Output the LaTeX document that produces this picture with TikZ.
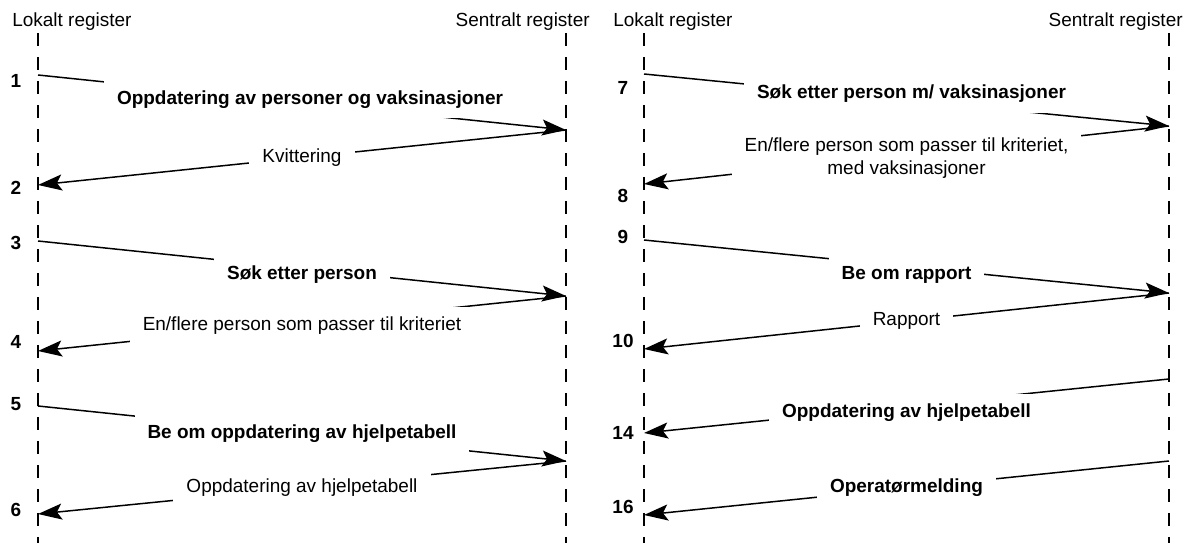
\documentclass[tikz,border=0pt]{standalone}
\usepackage{fontspec}
\setmainfont{Liberation Sans}
\usetikzlibrary{arrows.meta,positioning}
\tikzset{>={Stealth[length=0.48cm,width=0.32cm,inset=0.1cm]}}
\tikzset{
  lifeline/.style={line width=1.1pt, dash pattern=on 0.26cm off 0.22cm},
  msg/.style={->, line width=0.85pt},
  msglabel/.style={fill=white, inner xsep=0.26cm, inner ysep=0.2cm,
    font=\fontsize{10.8}{13}\selectfont},
  boldlabel/.style={msglabel, font=\fontsize{10.8}{13}\selectfont\bfseries},
  stepno/.style={font=\fontsize{10.8}{13}\selectfont\bfseries, inner sep=0pt},
  header/.style={font=\fontsize{10.8}{13}\selectfont, inner sep=0pt}
}

\begin{document}
\begin{tikzpicture}[x=0.02cm, y=-0.02cm]
\useasboundingbox (0,0) rectangle (1192,543);

% headings
\node[header, anchor=west] (lokalA) at (12,22) {Lokalt register};
\node[header, anchor=east] (sentralA) at (590,22) {Sentralt register};
\node[header, anchor=west] (lokalB) at (613,22) {Lokalt register};
\node[header, anchor=east] (sentralB) at (1183,22) {Sentralt register};

% lifelines
\coordinate (lA) at (38,33);    \coordinate (lAend) at (38,543);
\coordinate (sA) at (566,33);   \coordinate (sAend) at (566,543);
\coordinate (lB) at (644,33);   \coordinate (lBend) at (644,543);
\coordinate (sB) at (1169,33);  \coordinate (sBend) at (1169,543);
\draw[lifeline] (lA) -- (lAend);
\draw[lifeline] (sA) -- (sAend);
\draw[lifeline] (lB) -- (lBend);
\draw[lifeline] (sB) -- (sBend);

% left part
\coordinate (m1s) at (38,75);   \coordinate (m1e) at (566,130);
\coordinate (m2e) at (38,185);
\coordinate (m3s) at (38,241);  \coordinate (m3e) at (566,296);
\coordinate (m4e) at (38,351);
\coordinate (m5s) at (38,406);  \coordinate (m5e) at (566,461);
\coordinate (m6e) at (38,514);

\draw[msg] (m1s) -- (m1e) node[boldlabel, midway, xshift=0.16cm, yshift=0.06cm]
  {Oppdatering av personer og vaksinasjoner};
\draw[msg] (m1e) -- (m2e) node[msglabel, midway] {Kvittering};
\draw[msg] (m3s) -- (m3e) node[boldlabel, midway, yshift=-0.12cm] {Søk etter person};
\draw[msg] (m3e) -- (m4e) node[msglabel, midway, yshift=-0.04cm]
  {En/flere person som passer til kriteriet};
\draw[msg] (m5s) -- (m5e) node[boldlabel, midway]
  {Be om oppdatering av hjelpetabell};
\draw[msg] (m5e) -- (m6e) node[msglabel, midway] {Oppdatering av hjelpetabell};

\node[stepno] (n1) at (16,81) {1};
\node[stepno] (n2) at (16,188) {2};
\node[stepno] (n3) at (16,243) {3};
\node[stepno] (n4) at (16,342) {4};
\node[stepno] (n5) at (16,404) {5};
\node[stepno] (n6) at (16,510) {6};

% right part
\coordinate (m7s) at (644,74);   \coordinate (m7e) at (1169,126);
\coordinate (m8e) at (644,184);
\coordinate (m9s) at (644,240);  \coordinate (m9e) at (1169,293);
\coordinate (m10e) at (644,349);
\coordinate (m14s) at (1169,379); \coordinate (m14e) at (644,433);
\coordinate (m16s) at (1169,461); \coordinate (m16e) at (644,515);

\draw[msg] (m7s) -- (m7e) node[boldlabel, midway, xshift=0.1cm, yshift=0.12cm]
  {Søk etter person m/ vaksinasjoner};
\draw[msg] (m7e) -- (m8e) node[msglabel, midway, align=center, yshift=-0.06cm]
  {En/flere person som passer til kriteriet,\\ med vaksinasjoner};
\draw[msg] (m9s) -- (m9e) node[boldlabel, midway, yshift=-0.16cm] {Be om rapport};
\draw[msg] (m9e) -- (m10e) node[msglabel, midway] {Rapport};
\draw[msg] (m14s) -- (m14e) node[boldlabel, midway, yshift=-0.14cm]
  {Oppdatering av hjelpetabell};
\draw[msg] (m16s) -- (m16e) node[boldlabel, midway] {Operatørmelding};

\node[stepno] (n7) at (623,88) {7};
\node[stepno] (n8) at (623,196) {8};
\node[stepno] (n9) at (623,237) {9};
\node[stepno] (n10) at (623,341) {10};
\node[stepno] (n14) at (623,433) {14};
\node[stepno] (n16) at (623,507) {16};
\end{tikzpicture}
\end{document}
